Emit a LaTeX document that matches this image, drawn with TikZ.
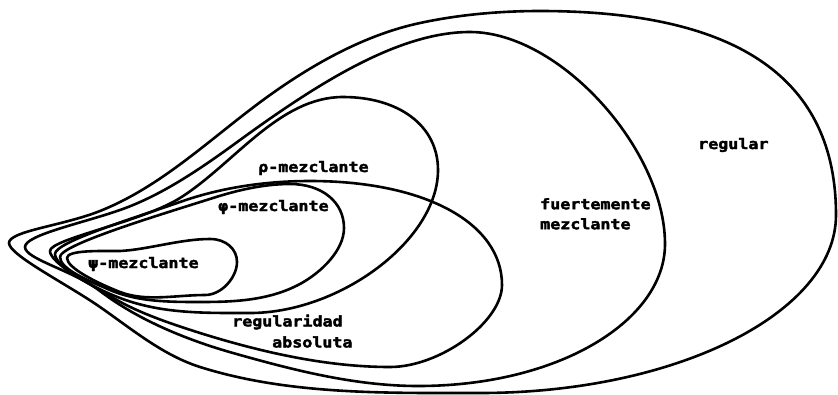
\documentclass[tikz,border=0pt]{standalone}
\usepackage{fontspec}
\newfontfamily\plotfont[FakeStretch=1.15,FakeBold=2.5,BoldFeatures={FakeBold=2.5}]{DejaVu Sans Mono}
\begin{document}
\begin{tikzpicture}[x=1pt,y=-1pt,
  set/.style={line width=2.6pt, line join=round},
  lab/.style={font=\plotfont\bfseries\fontsize{14.5}{20}\selectfont, inner sep=0pt, align=left}]
\useasboundingbox (0,0) rectangle (838,394);
% regular (outermost)
\draw[set] (9,243) .. controls (9,231) and (62.8,225.8) .. (100,211)
  .. controls (164,185.5) and (214,135) .. (270,95)
  .. controls (314.6,63.1) and (366,34.5) .. (420,23)
  .. controls (459,14.6) and (500,11) .. (540,11)
  .. controls (740,11) and (836,80) .. (836,215)
  .. controls (836,313) and (676,393) .. (480,393)
  .. controls (386,393) and (289,395) .. (200,367)
  .. controls (163,355.3) and (132,329.2) .. (100,307)
  .. controls (67.2,284.2) and (9,255) .. (9,243) -- cycle;
% fuertemente mezclante
\draw[set] (25,247) .. controls (25,235) and (82.4,223.2) .. (120,210)
  .. controls (163,195) and (203,167) .. (240,140)
  .. controls (321,81) and (400,32) .. (470,32)
  .. controls (560,32) and (665,150) .. (665,244)
  .. controls (665,320) and (560,386) .. (418,386)
  .. controls (355,386) and (293,370) .. (233,353)
  .. controls (187,340) and (138,320) .. (100,291)
  .. controls (72,270) and (25,259) .. (25,247) -- cycle;
% rho-mezclante
\draw[set] (50,251) .. controls (50,239) and (142,222) .. (180,198)
  .. controls (234,164) and (279,97) .. (343,97)
  .. controls (398,97) and (438,125) .. (438,170)
  .. controls (438,240) and (340,313) .. (250,313)
  .. controls (205,313) and (162,314) .. (120,298)
  .. controls (92,287.5) and (50,263) .. (50,251) -- cycle;
% regularidad absoluta
\draw[set] (55,254) .. controls (55,242) and (133,218.5) .. (180,202)
  .. controls (221,187.5) and (266,181) .. (310,181)
  .. controls (425,181) and (502,223) .. (502,285)
  .. controls (502,322) and (440,367) .. (390,367)
  .. controls (326,367) and (261,352) .. (200,333)
  .. controls (170,323.4) and (137,312.6) .. (110,296)
  .. controls (89,283) and (55,266) .. (55,254) -- cycle;
% phi-mezclante
\draw[set] (60,257) .. controls (60,245) and (156,216) .. (213,198)
  .. controls (238,190) and (264,184) .. (290,184)
  .. controls (322,184) and (344,202) .. (344,228)
  .. controls (344,250) and (322,272) .. (300,284)
  .. controls (269,300.5) and (235,302) .. (200,302)
  .. controls (170,302) and (138,302) .. (110,290)
  .. controls (87,280) and (60,269) .. (60,257) -- cycle;
% psi-mezclante
\draw[set] (67,258) .. controls (67,250) and (100,251) .. (120,251)
  .. controls (148,249.6) and (180,239) .. (210,239)
  .. controls (226,239) and (237,249) .. (237,262)
  .. controls (237,277) and (222,295) .. (205,295)
  .. controls (176,295) and (146,302) .. (120,292)
  .. controls (97,283) and (67,268) .. (67,258) -- cycle;
% labels
\node[lab, anchor=west] (reg) at (698,145) {regular};
\node[lab, anchor=north west] (fue) at (540,198) {fuertemente\\mezclante};
\node[lab, anchor=west] (rho) at (258,168) {ρ-mezclante};
\node[lab, anchor=west] (phi) at (218,207) {φ-mezclante};
\node[lab, anchor=west] (psi) at (88,264) {ψ-mezclante};
\node[lab, anchor=west] (ra1) at (232,322) {regularidad};
\node[lab, anchor=west] (ra2) at (272,342) {absoluta};
\end{tikzpicture}
\end{document}
